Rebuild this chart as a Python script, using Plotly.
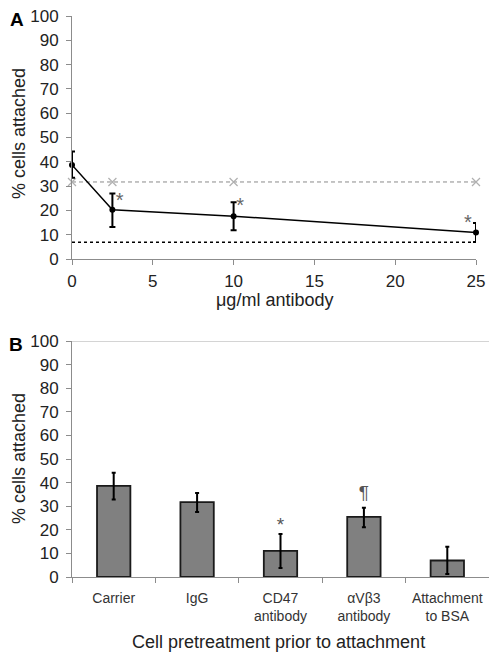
import plotly.graph_objects as go

# Panel A data
dose = [0, 2.5, 10, 25]
attached = [38.7, 20.3, 17.6, 10.9]
err_plus = [5.5, 6.7, 5.8, 3.9]
err_minus = [5.3, 7.1, 5.8, 3.9]
igg_dose = [0, 2.5, 10, 25]
igg_level = [31.7, 31.7, 31.7, 31.7]
bsa_dose = [0, 25]
bsa_level = [6.9, 6.9]
sig_a_x = [2.95, 10.4, 24.5]
sig_a_y = [23.3, 21.6, 14.6]

# Panel B data
categories = ["Carrier", "IgG", "CD47<br>antibody", "αVβ3<br>antibody", "Attachment<br>to BSA"]
bar_vals = [38.6, 31.7, 11.1, 25.5, 7.0]
bar_err_plus = [5.6, 3.9, 7.1, 3.8, 5.8]
bar_err_minus = [5.8, 4.2, 7.3, 4.4, 5.7]
sig_b_text = ["*", "¶"]
sig_b_cat = [categories[2], categories[3]]
sig_b_y = [21.5, 35.0]

FONT = "Liberation Sans, Arial, sans-serif"
AX = "#8c8c8c"
TXT = "#222222"

# page body has an 8px margin: figure sized / positioned to fit the 497x656 window
OFF = 8
W, H = 497 - OFF, 656 - OFF
L = 72 - OFF          # plot left in figure px (window x=72)
R = W - (489 - OFF)   # plot right at window x=489
T = 16 - OFF          # plot top at window y=16
B = H - (577 - OFF)   # plot bottom at window y=577
plot_w = W - L - R
plot_h = H - T - B


def px_to_paper(px, py):
    """window pixel -> paper coords"""
    fx, fy = px - OFF, py - OFF
    return (fx - L) / plot_w, (H - B - fy) / plot_h


def xdom(px):
    return (px - OFF - L) / plot_w


def ydom(py):
    return (H - B - (py - OFF)) / plot_h


fig = go.Figure()

fig.add_trace(go.Scatter(x=bsa_dose, y=bsa_level, mode="lines",
                         line=dict(color="black", width=1.5, dash="dot"),
                         xaxis="x", yaxis="y", showlegend=False))
fig.add_trace(go.Scatter(x=igg_dose, y=igg_level, mode="lines+markers",
                         line=dict(color="#8a8a8a", width=1, dash="4px,3px"),
                         marker=dict(symbol="x-thin", size=8, line=dict(color="#b0b0b0", width=1.2)),
                         xaxis="x", yaxis="y", showlegend=False, cliponaxis=False))
fig.add_trace(go.Scatter(x=dose, y=attached, mode="lines+markers",
                         line=dict(color="black", width=1.5),
                         marker=dict(color="black", size=6),
                         error_y=dict(type="data", array=err_plus, arrayminus=err_minus,
                                      color="black", thickness=2, width=3),
                         xaxis="x", yaxis="y", showlegend=False, cliponaxis=False))
fig.add_trace(go.Scatter(x=sig_a_x, y=sig_a_y, mode="text", text=["*"] * 3,
                         textfont=dict(family=FONT, size=20, color="#666666"),
                         xaxis="x", yaxis="y", showlegend=False))

fig.add_trace(go.Bar(x=categories, y=bar_vals, width=0.4,
                     marker=dict(color="#808080", line=dict(color="#1a1a1a", width=1.8)),
                     error_y=dict(type="data", array=bar_err_plus, arrayminus=bar_err_minus,
                                  color="black", thickness=2, width=2),
                     xaxis="x2", yaxis="y2", showlegend=False))
fig.add_trace(go.Scatter(x=sig_b_cat, y=sig_b_y, mode="text", text=sig_b_text,
                         textfont=dict(family=FONT, size=19, color="#555555"),
                         xaxis="x2", yaxis="y2", showlegend=False))

yticks = list(range(0, 101, 10))
common_y = dict(range=[0, 100], tickvals=yticks, showgrid=False, zeroline=False, automargin=False,
                showline=True, linecolor=AX, linewidth=1, ticks="outside", ticklen=5,
                tickcolor=AX, tickfont=dict(family=FONT, size=17, color=TXT),
                ticklabeloverflow="allow", ticklabelstandoff=4)

fig.update_layout(
    width=W, height=H, plot_bgcolor="white", paper_bgcolor="white",
    margin=dict(l=L, r=R, t=T, b=B, autoexpand=False),
    xaxis=dict(domain=[0, xdom(476)], range=[0, 25], tickvals=[0, 5, 10, 15, 20, 25],
               showgrid=False, zeroline=False, showline=True, linecolor=AX, ticks="outside",
               ticklen=5, tickcolor=AX, tickfont=dict(family=FONT, size=17, color=TXT),
               anchor="y", automargin=False, ticklabeloverflow="allow", ticklabelstandoff=2),
    yaxis=dict(domain=[ydom(259), 1.0], anchor="x", **common_y),
    xaxis2=dict(domain=[0, 1.0], anchor="y2", type="category", tickson="boundaries",
                showgrid=False, showline=True, linecolor=AX, ticks="outside", ticklen=5,
                tickcolor=AX, tickfont=dict(family=FONT, size=14, color="#333"), automargin=False,
                ticklabelstandoff=8, ticklabeloverflow="allow"),
    yaxis2=dict(domain=[0, ydom(341)], anchor="x2", **common_y),
    shapes=[dict(type="line", xref="x2 domain", yref="y2", x0=0, x1=1, y0=100, y1=100,
                 line=dict(color="#aaaaaa", width=1))],
)


def add_text(text, px, py, size, angle=0, bold=False):
    x, y = px_to_paper(px, py)
    fig.add_annotation(text=f"<b>{text}</b>" if bold else text, x=x, y=y, xref="paper", yref="paper",
                       xanchor="center", yanchor="middle",
                       showarrow=False, textangle=angle,
                       font=dict(family=FONT, size=size, color=TXT if not bold else "black"))


add_text("A", 17, 19, 19, bold=True)
add_text("B", 16, 344, 19, bold=True)
add_text("% cells attached", 19, 134, 18, angle=-90)
add_text("% cells attached", 19, 459, 18, angle=-90)
add_text("μg/ml antibody", 274, 300, 18)
add_text("Cell pretreatment prior to attachment", 278, 642, 18)

fig.write_html("out.html")
